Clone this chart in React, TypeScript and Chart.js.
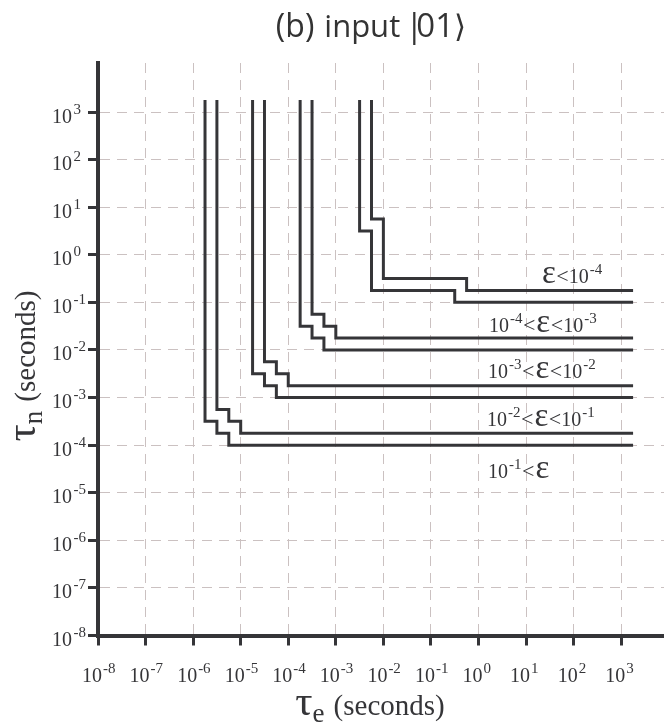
import React, { useEffect, useRef } from 'react';
import { Chart, registerables } from 'chart.js';

Chart.register(...registerables);

const W = 664;
const H = 725;

// Tick exponents (log10 of seconds)
const xTickExps = [-8, -7, -6, -5, -4, -3, -2, -1, 0, 1, 2, 3];
const yTickExps = [-8, -7, -6, -5, -4, -3, -2, -1, 0, 1, 2, 3];
const xMinExp = -8;
const xMaxExp = 3.9;
const yMinExp = -8;
const yMaxExp = 4.03;

// Boundary step curves, vertices as log10 exponents (tau_e, tau_n)
const lineAx = [-5.75, -5.75, -5.5, -5.5, -5.25, -5.25, 3.25];
const lineAy = [3.25, -3.5, -3.5, -3.75, -3.75, -4, -4];
const lineBx = [-5.5, -5.5, -5.25, -5.25, -5, -5, 3.25];
const lineBy = [3.25, -3.25, -3.25, -3.5, -3.5, -3.75, -3.75];
const lineCx = [-4.75, -4.75, -4.5, -4.5, -4.25, -4.25, 3.25];
const lineCy = [3.25, -2.5, -2.5, -2.75, -2.75, -3, -3];
const lineDx = [-4.5, -4.5, -4.25, -4.25, -4, -4, 3.25];
const lineDy = [3.25, -2.25, -2.25, -2.5, -2.5, -2.75, -2.75];
const lineEx = [-3.75, -3.75, -3.5, -3.5, -3.25, -3.25, 3.25];
const lineEy = [3.25, -1.5, -1.5, -1.75, -1.75, -2, -2];
const lineFx = [-3.5, -3.5, -3.25, -3.25, -3, -3, 3.25];
const lineFy = [3.25, -1.25, -1.25, -1.5, -1.5, -1.75, -1.75];
const lineGx = [-2.5, -2.5, -2.25, -2.25, -0.5, -0.5, 3.25];
const lineGy = [3.25, 0.5, 0.5, -0.75, -0.75, -1, -1];
const lineHx = [-2.25, -2.25, -2, -2, -0.25, -0.25, 3.25];
const lineHy = [3.25, 0.75, 0.75, -0.5, -0.5, -0.75, -0.75];

const curves = [
  [lineAx, lineAy], [lineBx, lineBy], [lineCx, lineCy], [lineDx, lineDy],
  [lineEx, lineEy], [lineFx, lineFy], [lineGx, lineGy], [lineHx, lineHy],
];

// Region labels, anchored in exponent coordinates
const regionLabels = [
  { parts: ['eps', '<', '10', '-4'], anchorX: 2.6, anchorY: -0.595, align: 'right' },
  { parts: ['10', '-4', '<', 'eps', '<', '10', '-3'], anchorX: 0.22, anchorY: -1.617, align: 'left' },
  { parts: ['10', '-3', '<', 'eps', '<', '10', '-2'], anchorX: 0.2, anchorY: -2.597, align: 'left' },
  { parts: ['10', '-2', '<', 'eps', '<', '10', '-1'], anchorX: 0.18, anchorY: -3.6, align: 'left' },
  { parts: ['10', '-1', '<', 'eps'], anchorX: 0.2, anchorY: -4.7, align: 'left' },
];

const titleParts = ['(b)', 'input', '|', '01', '\u27E9'];
const xTitleSym = '\u03C4';
const xTitleSub = 'e';
const yTitleSub = 'n';
const unitText = '(seconds)';

const SERIF = '"Liberation Serif", "Times New Roman", serif';
const SANS = '"Open Sans", "DejaVu Sans", sans-serif';
const INK = '#353538';

type Run = { t: string; size: number; dy: number; gap?: number; family?: string };

function drawRuns(ctx: CanvasRenderingContext2D, runs: Run[], x: number, y: number, align: string) {
  const widths = runs.map((r) => {
    ctx.font = `${r.size}px ${r.family || SERIF}`;
    return ctx.measureText(r.t).width + (r.gap || 0);
  });
  const total = widths.reduce((a, b) => a + b, 0);
  let cx = align === 'left' ? x : align === 'right' ? x - total : x - total / 2;
  ctx.textAlign = 'left';
  ctx.textBaseline = 'alphabetic';
  runs.forEach((r, i) => {
    ctx.font = `${r.size}px ${r.family || SERIF}`;
    ctx.fillText(r.t, cx + (r.gap || 0), y + r.dy);
    cx += widths[i];
  });
}

function partsToRuns(parts: string[]): Run[] {
  const runs: Run[] = [];
  parts.forEach((p) => {
    if (p === 'eps') runs.push({ t: '\u03B5', size: 33, dy: 0, gap: 1 });
    else if (p === '<') runs.push({ t: '<', size: 22, dy: 0, gap: 0.5 });
    else if (p === '10') runs.push({ t: '10', size: 20, dy: 0 });
    else runs.push({ t: p, size: 15, dy: -9, gap: 1 });
  });
  return runs;
}

const decor = {
  id: 'decor',
  afterDraw(chart: any) {
    const ctx: CanvasRenderingContext2D = chart.ctx;
    const xs = chart.scales.x;
    const ys = chart.scales.y;
    ctx.save();

    // Title
    ctx.fillStyle = '#333';
    drawRuns(ctx, [
      { t: titleParts[0], size: 32, dy: 0, family: SANS },
      { t: titleParts[1], size: 31, dy: 0, gap: 10, family: SANS },
      { t: titleParts[2], size: 33, dy: 0, gap: 5, family: SANS },
      { t: titleParts[3], size: 33, dy: 0, gap: -7, family: SANS },
      { t: titleParts[4], size: 31, dy: 0, gap: 0, family: SANS },
    ], 371, 37, 'center');

    ctx.fillStyle = INK;
    // X tick labels
    xTickExps.forEach((e) => {
      const px = xs.getPixelForValue(Math.pow(10, e));
      ctx.font = `20px ${SERIF}`;
      const w10 = ctx.measureText('10').width;
      const left = px - 6 - w10 / 2;
      drawRuns(ctx, [{ t: '10', size: 20, dy: 0 }, { t: String(e), size: 15, dy: -9, gap: 1 }], left, 682, 'left');
    });

    // Y tick labels
    yTickExps.forEach((e) => {
      const py = ys.getPixelForValue(Math.pow(10, e));
      drawRuns(ctx, [{ t: '10', size: 20, dy: 0 }, { t: String(e), size: 15, dy: -9, gap: 1.5 }], 52, py + 10.5, 'left');
    });

    // X title
    drawRuns(ctx, [
      { t: xTitleSym, size: 43, dy: 0 },
      { t: xTitleSub, size: 27, dy: 7 },
      { t: unitText, size: 29, dy: 0, gap: 9 },
    ], 370, 715, 'center');

    // Y title (rotated)
    ctx.save();
    ctx.translate(35, 366);
    ctx.rotate(-Math.PI / 2);
    drawRuns(ctx, [
      { t: xTitleSym, size: 43, dy: 0 },
      { t: yTitleSub, size: 27, dy: 7 },
      { t: unitText, size: 29, dy: 0, gap: 9 },
    ], 0, 0, 'center');
    ctx.restore();

    // Region labels
    regionLabels.forEach((l) => {
      const px = xs.getPixelForValue(Math.pow(10, l.anchorX));
      const py = ys.getPixelForValue(Math.pow(10, l.anchorY));
      drawRuns(ctx, partsToRuns(l.parts), px, py, l.align);
    });

    ctx.restore();
  },
};

export default function App() {
  const ref = useRef<HTMLCanvasElement>(null);
  useEffect(() => {
    if (!ref.current) return;
    const datasets = curves.map(([cx, cy]) => ({
      data: cx.map((e, i) => ({ x: Math.pow(10, e), y: Math.pow(10, cy[i]) })),
      borderColor: INK,
      borderWidth: 3,
      pointRadius: 0,
      fill: false,
      tension: 0,
      borderJoinStyle: 'miter' as const,
      borderCapStyle: 'butt' as const,
    }));
    const gridOpts = {
      color: '#cbc1c1',
      lineWidth: 1,
      tickColor: INK,
      tickWidth: 3,
      tickLength: 10,
      drawTicks: true,
    };
    const borderOpts = { display: true, width: 4, color: INK, dash: [10, 7] };
    const chart = new Chart(ref.current, {
      type: 'line',
      data: { datasets },
      options: {
        animation: false,
        responsive: false,
        devicePixelRatio: 1,
        layout: { padding: { top: 63, right: 0, left: 0, bottom: 0 } },
        plugins: { legend: { display: false }, tooltip: { enabled: false }, title: { display: false } },
        scales: {
          x: {
            type: 'logarithmic',
            min: Math.pow(10, xMinExp),
            max: Math.pow(10, xMaxExp),
            afterBuildTicks: (s: any) => { s.ticks = xTickExps.map((e) => ({ value: Math.pow(10, e) })); },
            afterFit: (s: any) => { s.height = H - 635.5; },
            ticks: { display: false },
            grid: gridOpts,
            border: borderOpts,
          },
          y: {
            type: 'logarithmic',
            min: Math.pow(10, yMinExp),
            max: Math.pow(10, yMaxExp),
            afterBuildTicks: (s: any) => { s.ticks = yTickExps.map((e) => ({ value: Math.pow(10, e) })); },
            afterFit: (s: any) => { s.width = 98; },
            ticks: { display: false },
            grid: gridOpts,
            border: borderOpts,
          },
        },
      } as any,
      plugins: [decor],
    });
    return () => chart.destroy();
  }, []);
  return (
    <div style={{ position: 'absolute', left: 0, top: 0, width: W, height: H, background: '#fff' }}>
      <canvas ref={ref} width={W} height={H} style={{ display: 'block' }} />
    </div>
  );
}
